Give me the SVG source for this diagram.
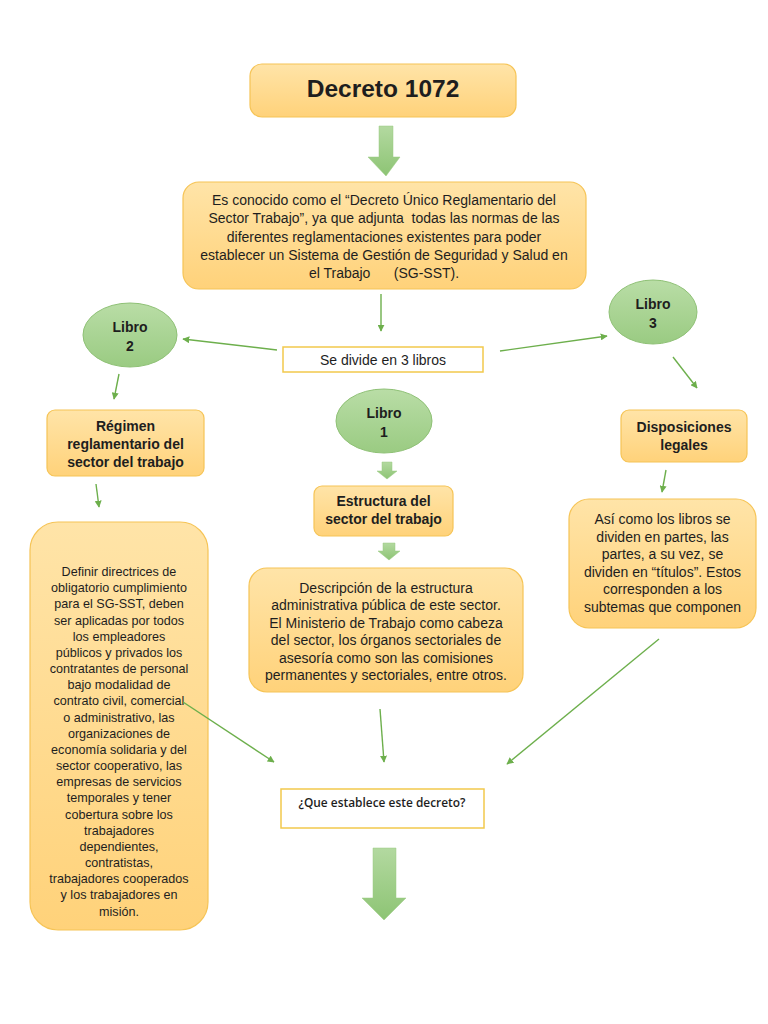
<svg xmlns="http://www.w3.org/2000/svg" width="768" height="1024" viewBox="0 0 768 1024">
<defs>
<linearGradient id="gold" x1="0" y1="0" x2="0" y2="1">
<stop offset="0" stop-color="#FFE4A8"/>
<stop offset="1" stop-color="#FFD27A"/>
</linearGradient>
<linearGradient id="green" x1="0" y1="0" x2="0" y2="1">
<stop offset="0" stop-color="#B9DDA6"/>
<stop offset="1" stop-color="#9ACB82"/>
</linearGradient>
<linearGradient id="garrow" x1="0" y1="0" x2="0" y2="1">
<stop offset="0" stop-color="#B3D9A0"/>
<stop offset="1" stop-color="#8DC474"/>
</linearGradient>
<marker id="ah" viewBox="0 0 10 10" refX="9" refY="5" markerWidth="7" markerHeight="7" markerUnits="userSpaceOnUse" orient="auto">
<path d="M0,0 L10,5 L0,10 Z" fill="#6DAF4C"/>
</marker>
</defs>
<style>
.box{fill:url(#gold);stroke:#F6C456;stroke-width:1.2}
.plain{fill:#FFFFFF;stroke:#F2C94C;stroke-width:1.5}
.oval{fill:url(#green);stroke:#8FC176;stroke-width:1}
.bigarrow{fill:url(#garrow);stroke:#9ACB82;stroke-width:0.5}
.con{stroke:#6DAF4C;stroke-width:1.4;fill:none;marker-end:url(#ah)}
text{font-family:"Liberation Sans",Arial,sans-serif;fill:#1E1E1E;text-anchor:middle}
.b{font-weight:bold}
.t14{font-size:14px}
.t13{font-size:12.6px}
.cal{font-family:"Open Sans","Noto Sans",sans-serif;font-weight:600;font-size:12px}
</style>
<rect width="768" height="1024" fill="#FFFFFF"/>

<g id="decreto">
<rect class="box" x="250" y="64" width="266" height="53" rx="12"/>
<text class="b" x="383" y="97" font-size="24.5">Decreto 1072</text>
</g>

<g id="conocido">
<rect class="box" x="183" y="182" width="403" height="107" rx="16"/>
<text class="t14" x="384" y="205">Es conocido como el “Decreto Único Reglamentario del</text>
<text class="t14" x="384" y="223" xml:space="preserve">Sector Trabajo”, ya que adjunta  todas las normas de las</text>
<text class="t14" x="384" y="242">diferentes reglamentaciones existentes para poder</text>
<text class="t14" x="384" y="260">establecer un Sistema de Gestión de Seguridad y Salud en</text>
<text class="t14" x="384" y="278" xml:space="preserve">el Trabajo      (SG-SST).</text>
</g>

<g id="divide">
<rect class="plain" x="283" y="347" width="200" height="25"/>
<text class="t14" x="383" y="365">Se divide en 3 libros</text>
</g>

<g id="libro2">
<ellipse class="oval" cx="130" cy="335" rx="47" ry="32"/>
<text class="b t14" x="130" y="332">Libro</text>
<text class="b t14" x="130" y="351">2</text>
</g>

<g id="libro1">
<ellipse class="oval" cx="384" cy="421" rx="48" ry="32"/>
<text class="b t14" x="384" y="418">Libro</text>
<text class="b t14" x="384" y="437">1</text>
</g>

<g id="libro3">
<ellipse class="oval" cx="653" cy="312" rx="44" ry="32"/>
<text class="b t14" x="653" y="309">Libro</text>
<text class="b t14" x="653" y="328">3</text>
</g>

<g id="regimen">
<rect class="box" x="47" y="410" width="157" height="66" rx="8"/>
<text class="b t14" x="125.5" y="431">Régimen</text>
<text class="b t14" x="125.5" y="449">reglamentario del</text>
<text class="b t14" x="125.5" y="467">sector del trabajo</text>
</g>

<g id="estructura">
<rect class="box" x="314" y="486" width="139" height="50" rx="8"/>
<text class="b t14" x="383.5" y="506">Estructura del</text>
<text class="b t14" x="383.5" y="524">sector del trabajo</text>
</g>

<g id="disposiciones">
<rect class="box" x="621" y="410" width="126" height="52" rx="8"/>
<text class="b t14" x="684" y="432">Disposiciones</text>
<text class="b t14" x="684" y="450">legales</text>
</g>

<g id="definir">
<rect class="box" x="30" y="522" width="178" height="408" rx="28"/>
<text class="t13" x="119" y="576">Definir directrices de</text>
<text class="t13" x="119" y="592">obligatorio cumplimiento</text>
<text class="t13" x="119" y="608">para el SG-SST, deben</text>
<text class="t13" x="119" y="624.5">ser aplicadas por todos</text>
<text class="t13" x="119" y="640.5">los empleadores</text>
<text class="t13" x="119" y="657">públicos y privados los</text>
<text class="t13" x="119" y="673">contratantes de personal</text>
<text class="t13" x="119" y="689">bajo modalidad de</text>
<text class="t13" x="119" y="705">contrato civil, comercial</text>
<text class="t13" x="119" y="721.5">o administrativo, las</text>
<text class="t13" x="119" y="737.5">organizaciones de</text>
<text class="t13" x="119" y="754">economía solidaria y del</text>
<text class="t13" x="119" y="770">sector cooperativo, las</text>
<text class="t13" x="119" y="786">empresas de servicios</text>
<text class="t13" x="119" y="802">temporales y tener</text>
<text class="t13" x="119" y="818.5">cobertura sobre los</text>
<text class="t13" x="119" y="834.5">trabajadores</text>
<text class="t13" x="119" y="851">dependientes,</text>
<text class="t13" x="119" y="867">contratistas,</text>
<text class="t13" x="119" y="883">trabajadores cooperados</text>
<text class="t13" x="119" y="899">y los trabajadores en</text>
<text class="t13" x="119" y="915.5">misión.</text>
</g>

<g id="descripcion">
<rect class="box" x="249" y="568" width="274" height="124" rx="18"/>
<text class="t14" x="386" y="593">Descripción de la estructura</text>
<text class="t14" x="386" y="610">administrativa pública de este sector.</text>
<text class="t14" x="386" y="628">El Ministerio de Trabajo como cabeza</text>
<text class="t14" x="386" y="645">del sector, los órganos sectoriales de</text>
<text class="t14" x="386" y="663">asesoría como son las comisiones</text>
<text class="t14" x="386" y="680">permanentes y sectoriales, entre otros.</text>
</g>

<g id="asi">
<rect class="box" x="569" y="499" width="187" height="129" rx="20"/>
<text class="t14" x="662.5" y="524">Así como los libros se</text>
<text class="t14" x="662.5" y="542">dividen en partes, las</text>
<text class="t14" x="662.5" y="559">partes, a su vez, se</text>
<text class="t14" x="662.5" y="577">dividen en “títulos”. Estos</text>
<text class="t14" x="662.5" y="594">corresponden a los</text>
<text class="t14" x="662.5" y="612">subtemas que componen</text>
</g>

<g id="establece">
<rect class="plain" x="281" y="789" width="203" height="39"/>
<text class="cal" x="382" y="807" textLength="167" lengthAdjust="spacingAndGlyphs">¿Que establece este decreto?</text>
</g>

<g id="connectors">
<path class="bigarrow" d="M379,126 H393 V157 H400 L386,176 L368,157 H379 Z"/>
<line class="con" x1="381" y1="294" x2="381" y2="331"/>
<line class="con" x1="277" y1="350" x2="183" y2="339"/>
<line class="con" x1="500" y1="351" x2="607" y2="336"/>
<line class="con" x1="119" y1="374" x2="114" y2="399"/>
<line class="con" x1="96" y1="484" x2="99" y2="507"/>
<line class="con" x1="673" y1="357" x2="697" y2="388"/>
<line class="con" x1="666" y1="470" x2="662" y2="492"/>
<path class="bigarrow" d="M382,462 H392 V471 H397 L387,479 L377,471 H382 Z"/>
<path class="bigarrow" d="M383,543 H395 V551 H400 L389,560 L378,551 H383 Z"/>
<line class="con" x1="183" y1="702" x2="274" y2="762"/>
<line class="con" x1="380" y1="709" x2="384" y2="762"/>
<line class="con" x1="659" y1="639" x2="507" y2="764"/>
<path class="bigarrow" d="M373,848 H396 V898 H406 L384,920 L362,898 H373 Z"/>
</g>
</svg>
